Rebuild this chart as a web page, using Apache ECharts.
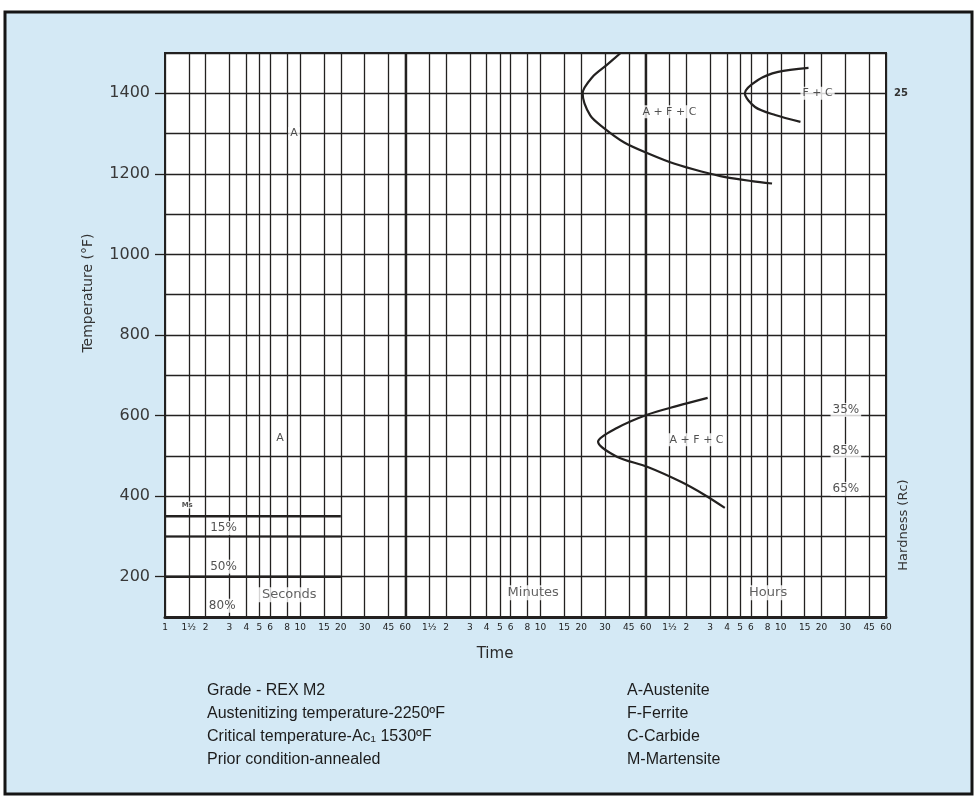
<!DOCTYPE html>
<html>
<head>
<meta charset="utf-8">
<title>REX M2 - TTT diagram</title>
<script src="https://cdn.jsdelivr.net/npm/echarts/dist/echarts.min.js"></script>
<style>
  html, body { margin: 0; padding: 0; background: #fff; }
  #ttt { width: 978px; height: 798px; }
</style>
</head>
<body>
<div id="ttt"></div>
<script>
// tick marks on the time axis, one list per unit
var secTicks = [1, 1.5, 2, 3, 4, 5, 6, 8, 10, 15, 20, 30, 45, 60];
var minTicks = [1.5, 2, 3, 4, 5, 6, 8, 10, 15, 20, 30, 45, 60];
var hourTicks = [1.5, 2, 3, 4, 5, 6, 8, 10, 15, 20, 30, 45, 60];
var tempTicks = [200, 400, 600, 800, 1000, 1200, 1400];
var unitLines = [60, 3600];   // 1 minute, 1 hour

// transformation curves, [time in seconds, temperature F]
var afcUpper = [[2350, 1500], [1850, 1470], [1450, 1440], [1230, 1400], [1400, 1345], [1750, 1315],
  [2500, 1278], [3800, 1250], [5900, 1225], [9300, 1206], [14000, 1192], [22000, 1182], [31000, 1176]];
var fcCurve = [[57700, 1463], [34400, 1453], [24400, 1433], [19500, 1400], [23200, 1366],
  [32700, 1346], [50300, 1329]];
var afcLower = [[10350, 644], [6180, 624], [3690, 602], [2205, 569], [1600, 535], [2205, 498],
  [3690, 473], [6620, 435], [9840, 403], [13860, 371]];

// martensite lines
var msLine = [[1, 350], [20, 350]];
var m15Line = [[1, 300], [20, 300]];
var m50Line = [[1, 200], [20, 200]];

// region labels
var phaseText = ['A', 'A', 'A + F + C', 'F + C', 'A + F + C'];
var phaseTime = [9, 7.1, 5390, 67300, 8570];
var phaseTemp = [1300, 545, 1354, 1400, 540];

var pctText = ['15%', '50%', '80%'];
var pctTime = [2.71, 2.71, 2.65];
var pctTemp = [321, 225, 128];

var unitText = ['Seconds', 'Minutes', 'Hours'];
var unitTime = [8.3, 530, 29000];
var unitTemp = [155, 160, 160];

var hardText = ['35%', '85%', '65%'];
var hardTime = [109000, 109000, 109000];
var hardTemp = [614, 512, 418];
var hardTopText = '25';
var hardTopTemp = 1400;

var notesLeft = ['Grade - REX M2', 'Austenitizing temperature-2250\u00baF',
  'Critical temperature-Ac\u2081 1530\u00baF', 'Prior condition-annealed'];
var notesRight = ['A-Austenite', 'F-Ferrite', 'C-Carbide', 'M-Martensite'];

var ink = '#232120';
var allTicks = secTicks
  .concat(minTicks.map(function (v) { return v * 60; }))
  .concat(hourTicks.map(function (v) { return v * 3600; }));

function tickName(v) {
  var n = v <= 60 ? v : (v <= 3600 ? v / 60 : v / 3600);
  return n === 1.5 ? '1\u00bd' : String(n);
}

function zip3(a, b, c) {
  return a.map(function (t, i) { return [b[i], c[i], t]; });
}

function labelSeries(data, label) {
  return {
    type: 'scatter',
    data: data,
    symbolSize: 1,
    z: 5,
    itemStyle: { color: 'rgba(0,0,0,0)' },
    silent: true,
    label: Object.assign({
      show: true,
      position: 'inside',
      formatter: function (p) { return p.data[2]; },
      backgroundColor: '#fff',
      padding: [1, 2],
      color: '#262626',
      fontFamily: 'DejaVu Sans'
    }, label)
  };
}

function curve(data, width) {
  return {
    type: 'line',
    data: data,
    smooth: 0.3,
    symbol: 'none',
    silent: true,
    z: 4,
    lineStyle: { color: ink, width: width }
  };
}

var chart = echarts.init(document.getElementById('ttt'));

var graphics = [
  { type: 'rect', z: -100, shape: { x: 5, y: 12, width: 967, height: 782 },
    style: { fill: '#d4e9f5', stroke: '#151515', lineWidth: 3 } },
  { type: 'text', x: 88, y: 293, rotation: Math.PI / 2,
    style: { text: 'Temperature (\u00b0F)', font: '14px "DejaVu Sans"', fill: '#333',
      textAlign: 'center', textVerticalAlign: 'middle' } },
  { type: 'text', x: 904, y: 525, rotation: Math.PI / 2,
    style: { text: 'Hardness (Rc)', font: '13px "DejaVu Sans"', fill: '#333',
      textAlign: 'center', textVerticalAlign: 'middle' } },
  { type: 'text', x: 495, y: 654,
    style: { text: 'Time', font: '500 15px "DejaVu Sans"', fill: '#2a2a2a',
      textAlign: 'center', textVerticalAlign: 'middle' } }
];
notesLeft.forEach(function (s, i) {
  graphics.push({ type: 'text', x: 207, y: 691 + i * 23,
    style: { text: s, font: '16px "Liberation Sans"', fill: '#1c1c1c', textVerticalAlign: 'middle' } });
});
notesRight.forEach(function (s, i) {
  graphics.push({ type: 'text', x: 627, y: 691 + i * 23,
    style: { text: s, font: '16px "Liberation Sans"', fill: '#1c1c1c', textVerticalAlign: 'middle' } });
});

var option = {
  backgroundColor: '#fff',
  animation: false,
  graphic: graphics,
  grid: {
    left: 165, right: 92, top: 53, bottom: 181,
    show: true, backgroundColor: '#fff', borderColor: ink, borderWidth: 2
  },
  xAxis: {
    type: 'log',
    logBase: 10,
    min: 1,
    max: 216000,
    axisLine: { show: true, lineStyle: { color: ink, width: 3 } },
    axisTick: { show: false, customValues: allTicks },
    axisLabel: {
      customValues: allTicks,
      formatter: tickName,
      fontSize: 9,
      fontFamily: 'DejaVu Sans',
      color: '#222',
      margin: 6,
      hideOverlap: false,
      showMinLabel: true,
      showMaxLabel: true
    },
    splitLine: { show: true, lineStyle: { color: ink, width: 1.3 } },
    minorSplitLine: { show: false }
  },
  yAxis: [{
    type: 'value',
    min: 100, max: 1500, interval: 100,
    axisLine: { show: true, lineStyle: { color: ink, width: 2 } },
    axisTick: { show: true, customValues: tempTicks, length: 10, lineStyle: { color: ink, width: 1.3 } },
    axisLabel: {
      customValues: tempTicks,
      formatter: function (v) { return String(v); },
      fontSize: 16, fontFamily: 'DejaVu Sans', color: '#383838', margin: 15
    },
    splitLine: { show: false }
  }, {
    type: 'value',
    min: 100, max: 1500, interval: 100,
    axisLine: { show: false },
    axisTick: { show: false },
    axisLabel: { show: false },
    splitLine: { show: true, lineStyle: { color: ink, width: 1.3 } }
  }, {
    type: 'value',
    position: 'right',
    min: 100, max: 1500,
    axisLine: { show: false },
    axisTick: { show: false },
    axisLabel: {
      customValues: [hardTopTemp],
      formatter: function () { return hardTopText; },
      fontSize: 10, fontWeight: 'bold', fontFamily: 'DejaVu Sans', color: '#333', margin: 8
    },
    splitLine: { show: false }
  }],
  series: [
    {
      type: 'line', data: [], silent: true,
      markLine: {
        symbol: 'none', silent: true, label: { show: false },
        lineStyle: { color: ink, width: 2.4, type: 'solid' },
        data: unitLines.map(function (v) { return { xAxis: v }; })
      }
    },
    curve(msLine, 2.6),
    curve(m15Line, 2),
    curve(m50Line, 2.6),
    curve(afcUpper, 2.2),
    curve(fcCurve, 2.2),
    curve(afcLower, 2.2),
    labelSeries(zip3(phaseText, phaseTime, phaseTemp), { fontSize: 11 }),
    labelSeries([[1.46, 378, 'Ms']], { fontSize: 7, fontWeight: 'bold', padding: [0, 1] }),
    labelSeries(zip3(pctText, pctTime, pctTemp), { fontSize: 12 }),
    labelSeries(zip3(unitText, unitTime, unitTemp), { fontSize: 13, color: '#3a3a3a', padding: [1, 4] }),
    labelSeries(zip3(hardText, hardTime, hardTemp), { fontSize: 12 })
  ]
};

chart.setOption(option);
</script>
</body>
</html>
